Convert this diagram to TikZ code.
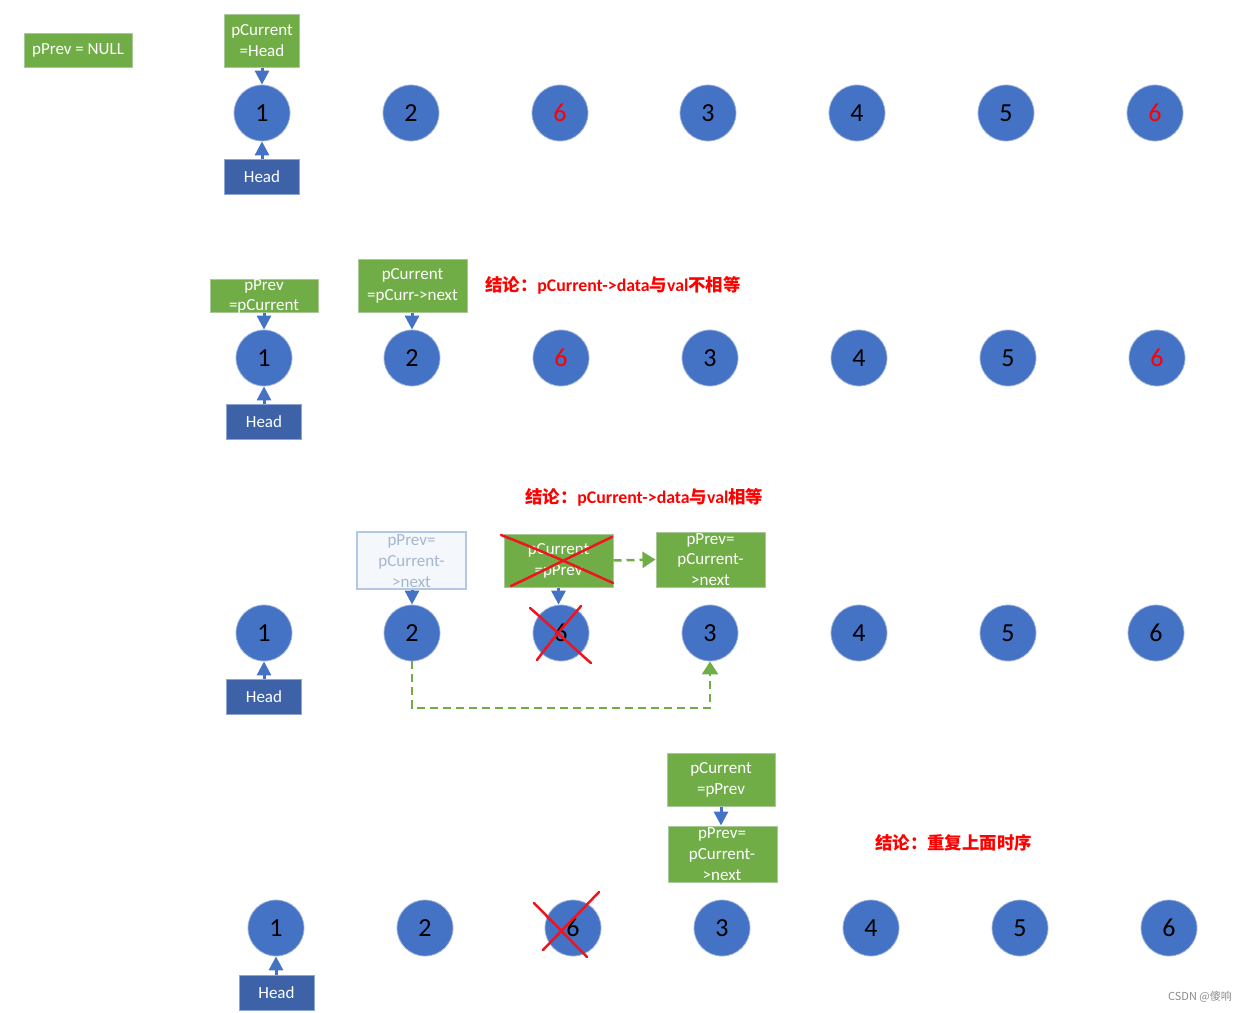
\documentclass[tikz,border=0pt]{standalone}
\usepackage{fontspec}
\setmainfont{Carlito}
\newfontfamily\cjk{Noto Sans CJK SC}
\usetikzlibrary{arrows.meta}
\definecolor{gfill}{HTML}{70AD47}
\definecolor{gborder}{HTML}{A9C99A}
\definecolor{cblue}{HTML}{4472C4}
\definecolor{cborder}{HTML}{9FB3DA}
\definecolor{hfill}{HTML}{3D62A8}
\definecolor{hborder}{HTML}{8EA6D6}
\definecolor{ffill}{HTML}{F4F7FC}
\definecolor{fborder}{HTML}{B4C7E7}
\definecolor{ftext}{HTML}{A7B6D0}
\definecolor{xred}{HTML}{F0141E}
\newcommand{\lat}[1]{{\rmfamily\bfseries\fontsize{17.8}{20}\selectfont #1}}
\begin{document}
\begin{tikzpicture}[x=1pt,y=-1pt,
  circ/.style={circle, fill=cblue, draw=cborder, line width=0.8pt, minimum size=56pt, inner sep=0pt, font=\fontsize{26}{30}\selectfont},
  gbox/.style={rectangle, fill=gfill, draw=gborder, line width=1pt, inner sep=0pt},
  fbox/.style={rectangle, fill=ffill, draw=fborder, line width=1.5pt, inner sep=0pt},
  hbox/.style={rectangle, fill=hfill, draw=hborder, line width=1pt, minimum width=75pt, minimum height=35pt, inner sep=0pt, text=white, font=\fontsize{17}{20}\selectfont},
  btxt/.style={text=white, align=center, inner sep=0pt, font=\fontsize{17}{20.8}\selectfont},
  ftxt/.style={text=ftext, align=center, inner sep=0pt, font=\fontsize{17}{20.8}\selectfont},
  rtxt/.style={text=red, anchor=west, inner sep=0pt, font=\cjk\bfseries\fontsize{17.4}{20}\selectfont},
  barrow/.style={draw=cblue, line width=3pt, -{Triangle[width=14pt,length=14pt]}},
  garrow/.style={draw=gfill, line width=2.5pt, dash pattern=on 8pt off 5pt, -{Triangle[width=16pt,length=13pt]}},
  xline/.style={draw=xred, line width=2.5pt, line cap=round}
]
\useasboundingbox (0,0) rectangle (1246,1012);

% ---------- Row 1 ----------
\foreach \x/\l/\c [count=\i] in {262/1/black,411/2/black,560/6/red,708/3/black,857/4/black,1006/5/black,1155/6/red}
  \node[circ,text=\c] (a\i) at (\x,113) {\l};
\node[gbox,minimum width=108pt,minimum height=34pt] (pn1) at (78,50) {};
\node[btxt] (pn1t) at (pn1) {pPrev = NULL};
\node[gbox,minimum width=75pt,minimum height=53pt] (pc1) at (262,40.5) {};
\node[btxt] (pc1t) at (pc1) {pCurrent\\=Head};
\node[hbox] (h1) at (262,176.5) {Head};
\draw[barrow] (pc1.south) -- (a1.north);
\draw[barrow] (h1.north) -- (a1.south);

% ---------- Row 2 ----------
\foreach \x/\l/\c [count=\i] in {264/1/black,412/2/black,561/6/red,710/3/black,859/4/black,1008/5/black,1157/6/red}
  \node[circ,text=\c] (b\i) at (\x,358) {\l};
\node[gbox,minimum width=108pt,minimum height=33pt] (pp2) at (264,295.5) {};
\node[btxt] (pp2t) at (264,296.5) {pPrev\\=pCurrent};
\node[gbox,minimum width=109pt,minimum height=53pt] (pc2) at (412.5,285.5) {};
\node[btxt] (pc2t) at (412.5,286) {pCurrent\\=pCurr->next};
\node[rtxt] (r2) at (485,285) {结论：\lat{pCurrent->data}与\lat{val}不相等};
\node[hbox] (h2) at (264,421.5) {Head};
\draw[barrow] (pp2.south) -- (b1.north);
\draw[barrow] (pc2.south -| b2.north) -- (b2.north);
\draw[barrow] (h2.north) -- (b1.south);

% ---------- Row 3 ----------
\foreach \x/\l [count=\i] in {264/1,412/2,561/6,710/3,859/4,1008/5,1156/6}
  \node[circ] (c\i) at (\x,633) {\l};
\node[rtxt] (r3) at (525,497) {结论：\lat{pCurrent->data}与\lat{val}相等};
\node[fbox,minimum width=109pt,minimum height=57pt] (fb) at (411.5,560.5) {};
\node[ftxt] (fbt) at (411.5,561) {pPrev=\\pCurrent-\\>next};
\node[gbox,minimum width=109pt,minimum height=53pt] (pc3) at (558.5,560.5) {};
\node[btxt] (pc3t) at (558.5,561) {pCurrent\\=pPrev};
\node[gbox,minimum width=109pt,minimum height=55pt] (pn3) at (710.5,559.5) {};
\node[btxt] (pn3t) at (710.5,559.5) {pPrev=\\pCurrent-\\>next};
\node[hbox] (h3) at (264,696.5) {Head};
\draw[barrow] (fb.south -| c2.north) -- (c2.north);
\draw[barrow] (pc3.south) -- (pc3.south |- c3.north);
\draw[barrow] (h3.north) -- (c1.south);
\draw[garrow] (pc3.east) -- (pn3.west);
\coordinate (gmid) at (560,708);
\draw[garrow] (c2.south) |- (gmid) -| (c4.south);
% crosses
\draw[xline] (501,535) .. controls (540,550) and (580,568) .. (613,583);
\draw[xline] (511,586) .. controls (545,570) and (580,552) .. (612,537);
\draw[xline] (530,608) .. controls (550,625) and (570,645) .. (591,663);
\draw[xline] (581,606) .. controls (565,625) and (550,642) .. (537,660);

% ---------- Row 4 ----------
\foreach \x/\l [count=\i] in {276/1,425/2,573/6,722/3,871/4,1020/5,1169/6}
  \node[circ] (d\i) at (\x,928) {\l};
\node[gbox,minimum width=108pt,minimum height=53pt] (pc4) at (721,779.5) {};
\node[btxt] (pc4t) at (721,780) {pCurrent\\=pPrev};
\node[gbox,minimum width=109pt,minimum height=56pt] (pn4) at (722.5,854) {};
\node[btxt] (pn4t) at (722,854) {pPrev=\\pCurrent-\\>next};
\node[rtxt] (r4) at (875,843) {结论：重复上面时序};
\node[hbox] (h4) at (276.5,992.5) {Head};
\draw[barrow] (pc4.south) -- (pc4.south |- pn4.north);
\draw[barrow] (h4.north -| d1.south) -- (d1.south);
\draw[xline] (534,903) -- (587,957);
\draw[xline] (599,892) -- (543,950);

\node[anchor=east, inner sep=0pt, text=black!45, font=\cjk\fontsize{11}{13}\selectfont] (wm) at (1232,997) {CSDN @傻响};
\end{tikzpicture}
\end{document}
